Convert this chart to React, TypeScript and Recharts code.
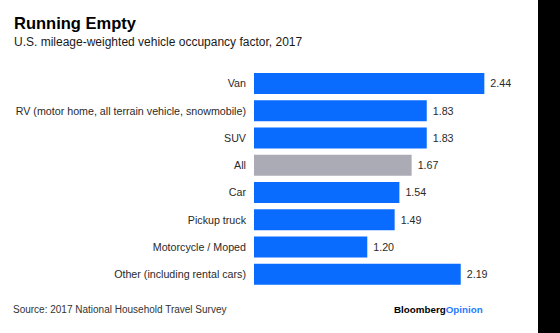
import { BarChart, Bar, XAxis, YAxis, Cell, LabelList } from 'recharts'

const categories = [
  'Van',
  'RV (motor home, all terrain vehicle, snowmobile)',
  'SUV',
  'All',
  'Car',
  'Pickup truck',
  'Motorcycle / Moped',
  'Other (including rental cars)',
]
const occupancy = [2.44, 1.83, 1.83, 1.67, 1.54, 1.49, 1.2, 2.19]
const highlighted = ['All']

const BLUE = '#0A6BFF'
const GRAY = '#ABABB5'
const FONT = '"Liberation Sans", Arial, Helvetica, sans-serif'

const data = categories.map((name, i) => ({ name, value: occupancy[i] }))

// plain text tick so long labels stay on one line
function CategoryTick(props: any) {
  const { x, y, payload } = props
  return (
    <text
      x={x}
      y={y}
      dy="0.355em"
      textAnchor="end"
      fontSize={10.7}
      fill="#2a2a2a"
      fontFamily={FONT}
    >
      {payload.value}
    </text>
  )
}

export default function App() {
  return (
    <div
      style={{
        position: 'absolute',
        left: 0,
        top: 0,
        width: 560,
        height: 333,
        background: '#fff',
        fontFamily: FONT,
        overflow: 'hidden',
      }}
    >
      <div
        style={{
          position: 'absolute',
          left: 14,
          top: 15.3,
          fontSize: 16.5,
          lineHeight: '16.5px',
          fontWeight: 700,
          color: '#000',
          whiteSpace: 'nowrap',
        }}
      >
        Running Empty
      </div>
      <div
        style={{
          position: 'absolute',
          left: 14,
          top: 35.8,
          fontSize: 12,
          lineHeight: '12px',
          color: '#1a1a1a',
          whiteSpace: 'nowrap',
        }}
      >
        U.S. mileage-weighted vehicle occupancy factor, 2017
      </div>

      <div style={{ position: 'absolute', left: 0, top: 0 }}>
        <BarChart
          width={538}
          height={333}
          data={data}
          layout="vertical"
          margin={{ top: 70, right: 48, bottom: 45, left: 0 }}
        >
          <XAxis type="number" domain={[0, 2.5]} hide />
          <YAxis
            type="category"
            dataKey="name"
            width={254}
            axisLine={false}
            tickLine={false}
            interval={0}
            tick={<CategoryTick />}
          />
          <Bar dataKey="value" barSize={21} isAnimationActive={false}>
            {data.map((d) => (
              <Cell key={d.name} fill={highlighted.includes(d.name) ? GRAY : BLUE} />
            ))}
            <LabelList
              dataKey="value"
              position="right"
              offset={6}
              formatter={(v: any) => Number(v).toFixed(2)}
              style={{ fontSize: 10.7, fill: '#2a2a2a', fontFamily: FONT }}
            />
          </Bar>
        </BarChart>
      </div>

      <div
        style={{
          position: 'absolute',
          left: 13,
          top: 305,
          fontSize: 10,
          lineHeight: '10px',
          color: '#333',
          whiteSpace: 'nowrap',
        }}
      >
        Source: 2017 National Household Travel Survey
      </div>
      <div
        style={{
          position: 'absolute',
          left: 394,
          top: 305.2,
          fontSize: 9.8,
          lineHeight: '9.8px',
          fontWeight: 700,
          color: '#000',
          whiteSpace: 'nowrap',
        }}
      >
        Bloomberg<span style={{ color: '#1F7BFF' }}>Opinion</span>
      </div>

      <div
        style={{ position: 'absolute', left: 538, top: 0, width: 22, height: 333, background: '#000' }}
      />
    </div>
  )
}
